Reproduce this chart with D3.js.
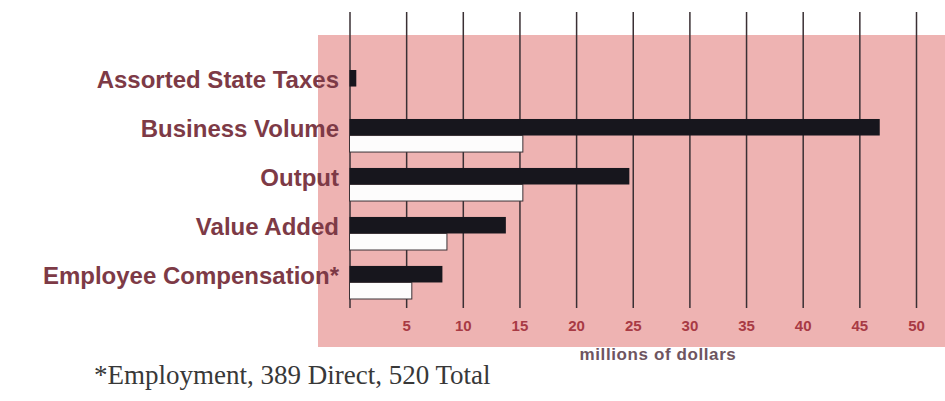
<!DOCTYPE html>
<html>
<head>
<meta charset="utf-8">
<script src="https://d3js.org/d3.v7.min.js"></script>
<style>
body { margin: 0; background: #fff; }
svg { display: block; }
.label { font-family: 'Liberation Sans', Arial, sans-serif; font-weight: bold; font-size: 24px; fill: #7d3a46; }
.tick text { font-family: 'Liberation Sans', Arial, sans-serif; font-weight: bold; font-size: 15px; fill: #a83a44; }
.tick line { stroke: #3a3034; stroke-width: 1.5; }
.units { font-family: 'Liberation Sans', Arial, sans-serif; font-weight: bold; font-size: 17px; fill: #6e5560; letter-spacing: 0.6px; }
.note { font-family: 'Liberation Serif', 'Times New Roman', serif; font-size: 27px; fill: #383838; }
</style>
</head>
<body>
<svg></svg>
<script>
const categories = ["Assorted State Taxes", "Business Volume", "Output", "Value Added", "Employee Compensation*"];
const totalValues = [0.6, 46.8, 24.7, 13.8, 8.2];
const directValues = [null, 15.3, 15.3, 8.6, 5.5];
const tickValues = [0, 5, 10, 15, 20, 25, 30, 35, 40, 45, 50];
const unitsLabel = "millions of dollars";
const footnote = "*Employment, 389 Direct, 520 Total";

const width = 945, height = 401;
const svg = d3.select("svg").attr("width", width).attr("height", height);

// pink panel behind the plot
svg.append("rect")
  .attr("x", 318).attr("y", 35)
  .attr("width", width - 318).attr("height", 312)
  .attr("fill", "#eeb3b2");

const x = d3.scaleLinear().domain([0, 50]).range([349.5, 916]);
const y = d3.scaleBand().domain(categories).range([70, 299]).paddingInner(0.325);

const gridTop = 12, gridBottom = 308;

// gridlines + tick labels
const axis = svg.append("g")
  .attr("transform", "translate(0," + gridBottom + ")")
  .call(d3.axisBottom(x)
    .tickValues(tickValues)
    .tickSize(-(gridBottom - gridTop))
    .tickPadding(12)
    .tickFormat(d => d === 0 ? "" : d));
axis.select(".domain").remove();
axis.selectAll(".tick text").attr("dy", "0.71em").attr("y", 12);

const rows = categories.map((c, i) => ({ c, total: totalValues[i], direct: directValues[i] }));
const half = y.bandwidth() / 2;

// black bars (top of each pair)
svg.append("g").selectAll("rect")
  .data(rows)
  .join("rect")
  .attr("x", x(0))
  .attr("y", d => y(d.c))
  .attr("width", d => x(d.total) - x(0))
  .attr("height", half)
  .attr("fill", "#17161d");

// white bars (below)
svg.append("g").selectAll("rect")
  .data(rows.filter(d => d.direct != null))
  .join("rect")
  .attr("x", x(0))
  .attr("y", d => y(d.c) + half)
  .attr("width", d => x(d.direct) - x(0))
  .attr("height", half)
  .attr("fill", "#fdfcfc")
  .attr("stroke", "#3a3236")
  .attr("stroke-width", 1);

// category labels
svg.append("g").selectAll("text")
  .data(rows)
  .join("text")
  .attr("class", "label")
  .attr("x", 339)
  .attr("y", d => y(d.c) + half * 0.6)
  .attr("dy", "0.35em")
  .attr("text-anchor", "end")
  .text(d => d.c);

svg.append("text")
  .attr("class", "units")
  .attr("x", 658).attr("y", 360)
  .attr("text-anchor", "middle")
  .text(unitsLabel);

svg.append("text")
  .attr("class", "note")
  .attr("x", 94).attr("y", 384)
  .text(footnote);
</script>
</body>
</html>
